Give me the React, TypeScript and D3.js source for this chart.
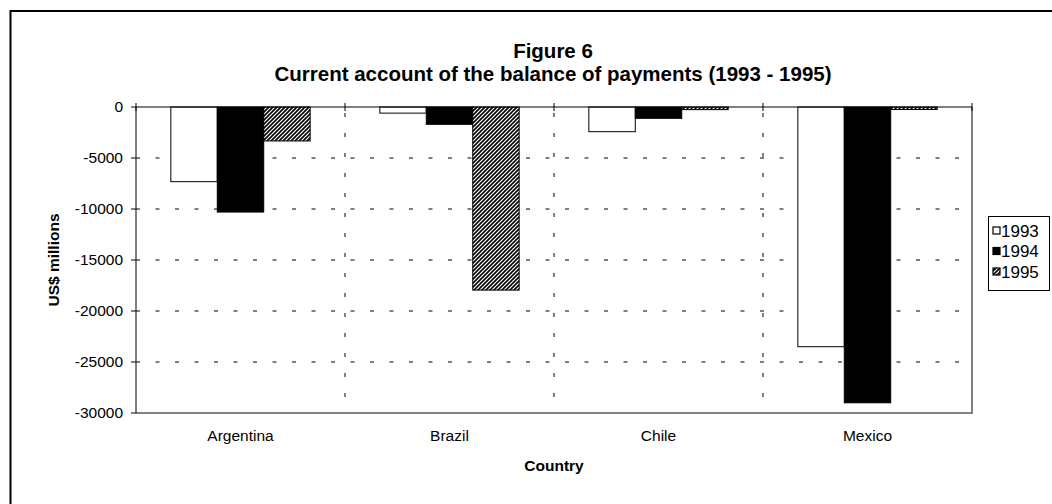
import React from 'react';
import * as d3 from 'd3';

const countries = ['Argentina', 'Brazil', 'Chile', 'Mexico'];
const years = ['1993', '1994', '1995'];
const values1993 = [-7320, -600, -2420, -23500];
const values1994 = [-10300, -1700, -1110, -29000];
const values1995 = [-3330, -17950, -260, -250];
const yTicks = [0, -5000, -10000, -15000, -20000, -25000, -30000];

const font = 'Arial, "Liberation Sans", sans-serif';

const W = 1052;
const H = 504;
const plot = { left: 136, right: 972, top: 107, bottom: 413 };

export default function App() {
  const seriesValues = [values1993, values1994, values1995];
  const fills = ['#ffffff', '#000000', 'url(#hatch)'];

  const x0 = d3.scaleBand<string>().domain(countries).range([plot.left, plot.right]).paddingInner(0).paddingOuter(0);
  const x1 = d3.scaleBand<string>().domain(years).range([0, x0.bandwidth()]).paddingInner(0).paddingOuter(0.75);
  const y = d3.scaleLinear().domain([-30000, 0]).range([plot.bottom, plot.top]);

  const boundaries = countries.slice(1).map(c => x0(c) as number);
  const cx = (c: string) => (x0(c) as number) + x0.bandwidth() / 2;

  return (
    <div style={{ position: 'absolute', left: 0, top: 0 }}>
      <svg width={W} height={H} style={{ display: 'block', background: '#fff' }} fontFamily={font}>
        <defs>
          <pattern id="hatch" patternUnits="userSpaceOnUse" width="4" height="4">
            <rect width="4" height="4" fill="#fff" />
            <path d="M-1,1 l2,-2 M0,4 l4,-4 M3,5 l2,-2" stroke="#000" strokeWidth="1.6" />
          </pattern>
        </defs>

        {/* outer chart frame */}
        <rect x={10.5} y={11} width={1100} height={600} fill="none" stroke="#000" strokeWidth={2} />

        {/* title */}
        <text x={553} y={58} textAnchor="middle" fontSize={20.5} fontWeight="bold">Figure 6</text>
        <text x={553} y={81} textAnchor="middle" fontSize={20.5} fontWeight="bold">
          Current account of the balance of payments (1993 - 1995)
        </text>

        {/* horizontal dashed gridlines */}
        {yTicks.filter(t => t !== 0 && t !== -30000).map(t => (
          <line key={t} x1={plot.left} x2={plot.right} y1={y(t)} y2={y(t)}
            stroke="#000" strokeWidth={1} strokeDasharray="4 15.5" />
        ))}
        {/* vertical dashed gridlines */}
        {boundaries.map(b => (
          <line key={b} x1={b} x2={b} y1={plot.top} y2={plot.bottom}
            stroke="#000" strokeWidth={1} strokeDasharray="4 16" strokeDashoffset={-6} />
        ))}

        {/* plot area border (right, bottom) */}
        <path d={`M${plot.left},${plot.bottom}H${plot.right}V${plot.top}`} fill="none" stroke="#808080" strokeWidth={2} />

        {/* bars */}
        {years.map((yr, si) => (
          <g key={yr}>
            {countries.map((c, ci) => {
              const v = seriesValues[si][ci];
              const bx = (x0(c) as number) + (x1(yr) as number);
              return (
                <rect key={c} x={bx} y={y(0)} width={x1.bandwidth()} height={y(v) - y(0)}
                  fill={fills[si]} stroke="#000" strokeWidth={1} />
              );
            })}
          </g>
        ))}

        {/* category axis at zero */}
        <line x1={plot.left} x2={plot.right} y1={y(0)} y2={y(0)} stroke="#000" strokeWidth={1} />
        {[plot.left, ...boundaries, plot.right].map(b => (
          <line key={b} x1={b} x2={b} y1={y(0) - 4} y2={y(0) + 4} stroke="#000" strokeWidth={1} />
        ))}

        {/* value axis */}
        <line x1={plot.left} x2={plot.left} y1={plot.top} y2={plot.bottom} stroke="#000" strokeWidth={1} />
        {yTicks.map(t => (
          <g key={t}>
            <line x1={plot.left - 5} x2={plot.left} y1={y(t)} y2={y(t)} stroke="#000" strokeWidth={1} />
            <text x={123} y={y(t)} dy="0.35em" textAnchor="end" fontSize={15.5}>{t}</text>
          </g>
        ))}

        {/* category labels */}
        {countries.map(c => (
          <text key={c} x={cx(c)} y={441} textAnchor="middle" fontSize={15.5}>{c}</text>
        ))}

        {/* axis titles */}
        <text x={(plot.left + plot.right) / 2} y={471} textAnchor="middle" fontSize={15.5} fontWeight="bold">Country</text>
        <text transform={`translate(59,${(plot.top + plot.bottom) / 2}) rotate(-90)`} textAnchor="middle"
          fontSize={15.5} fontWeight="bold">US$ millions</text>

        {/* legend */}
        <rect x={988.5} y={216.5} width={61} height={74} fill="#fff" stroke="#000" strokeWidth={1} />
        {years.map((yr, i) => {
          const ly = 231 + i * 20.5;
          return (
            <g key={yr}>
              <rect x={993} y={ly - 4} width={7} height={7} fill={fills[i]} stroke="#000" strokeWidth={1.2} />
              <text x={1001} y={ly} dy="0.35em" fontSize={17}>{yr}</text>
            </g>
          );
        })}
      </svg>
    </div>
  );
}
